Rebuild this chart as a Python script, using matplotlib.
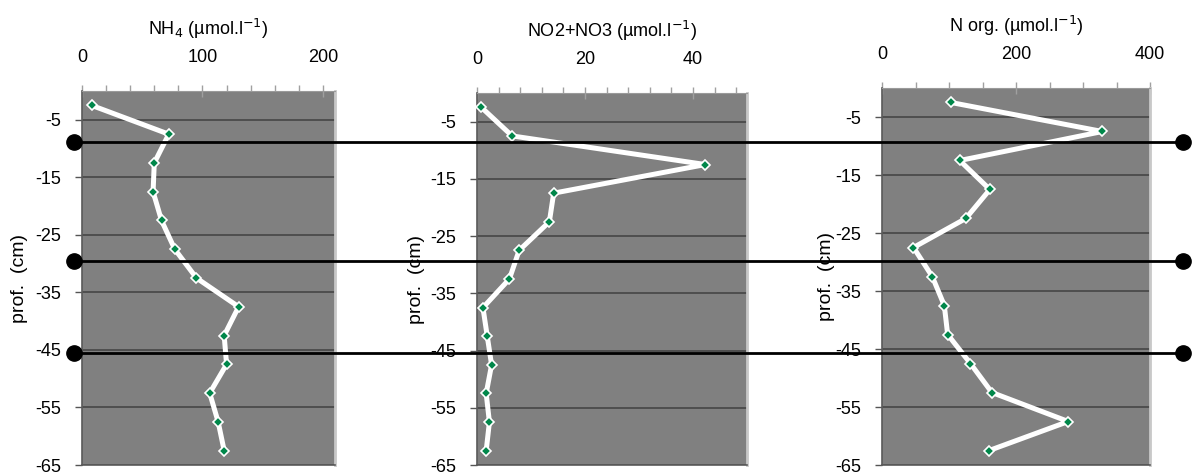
import matplotlib.pyplot as plt
import matplotlib.transforms as mtransforms
from matplotlib.ticker import MultipleLocator

plt.rcParams['font.family'] = ['Liberation Sans', 'DejaVu Sans']
plt.rcParams['font.size'] = 13
plt.rcParams['axes.unicode_minus'] = False

# sampling depths (cm) of the core slices
depth = [-2.5, -7.5, -12.5, -17.5, -22.5, -27.5, -32.5,
         -37.5, -42.5, -47.5, -52.5, -57.5, -62.5]

nh4 = [8, 72, 60, 59, 66, 77, 95, 130, 118, 120, 106, 113, 118]
no2_no3 = [0.8, 6.5, 42.3, 14.2, 13.4, 7.8, 6.0, 1.1, 1.9, 2.7, 1.7, 2.3, 1.7]
n_org = [103, 329, 116, 161, 125, 47, 75, 93, 98, 132, 164, 278, 160]

titles = ['NH$_4$ (µmol.l$^{-1}$)',
          'NO2+NO3 (µmol.l$^{-1}$)',
          'N org. (µmol.l$^{-1}$)']

# layer boundaries (cm) marked across all three profiles
boundaries = [-8.8, -29.5, -45.6]

W, H = 1192, 473
fig = plt.figure(figsize=(W / 100, H / 100), dpi=100)


def px_axes(x0, x1, y0, y1):
    # pixel box (top-left origin) -> figure fraction
    return fig.add_axes([x0 / W, 1 - y1 / H, (x1 - x0) / W, (y1 - y0) / H])


panels = [
    # values, xmax, major, minor, box, ylabel x (axes fraction)
    (nh4, 210, 100, 20, (82, 335, 91, 465), -0.213),
    (no2_no3, 50, 20, 4, (477, 747, 93, 465), -0.193),
    (n_org, 400, 200, 50, (882, 1150, 88, 465), -0.175),
]

axes = []
for (vals, xmax, major, minor, box, ylx), title in zip(panels, titles):
    ax = px_axes(*box)
    ax.set_facecolor('#808080')
    ax.set_xlim(0, xmax)
    ax.set_ylim(-65, 0)
    ax.xaxis.set_major_locator(MultipleLocator(major))
    ax.xaxis.set_minor_locator(MultipleLocator(minor))
    ax.set_yticks([-5, -15, -25, -35, -45, -55, -65])
    ax.xaxis.tick_top()
    ax.tick_params(axis='x', which='major', direction='inout', length=8,
                   width=1, color='#a0a0a0', pad=14, labelsize=13)
    ax.tick_params(axis='x', which='minor', direction='out', length=4,
                   width=1, color='#a0a0a0')
    ax.tick_params(axis='y', direction='out', length=5, width=1,
                   color='#555555', pad=10, labelsize=13)
    ax.grid(axis='y', color='#4a4a4a', lw=1.3)
    ax.set_axisbelow(True)
    for side in ('left', 'bottom'):
        ax.spines[side].set_color('#5a5a5a')
        ax.spines[side].set_linewidth(1.2)
    ax.spines['top'].set_color('#9a9a9a')
    ax.spines['right'].set_color('#c8c8c8')
    ax.spines['right'].set_linewidth(2)

    ax.plot(vals, depth, color='white', lw=3.6, marker='D', ms=5.5,
            mfc='#00874a', mec='white', mew=1.2, clip_on=False, zorder=3)
    ax.set_title(title, fontsize=13, pad=40)
    ax.set_ylabel('prof.  (cm)', fontsize=14)
    ax.yaxis.set_label_coords(ylx, 0.5)
    axes.append(ax)

# black boundary lines with end dots, spanning the whole figure
trans = mtransforms.blended_transform_factory(fig.transFigure, axes[0].transData)
for b in boundaries:
    fig.add_artist(plt.Line2D([74 / W, 1183 / W], [b, b], transform=trans,
                              color='black', lw=2, marker='o', ms=11,
                              mfc='black', mec='black', zorder=10))

fig.savefig('out.png', dpi=100)
